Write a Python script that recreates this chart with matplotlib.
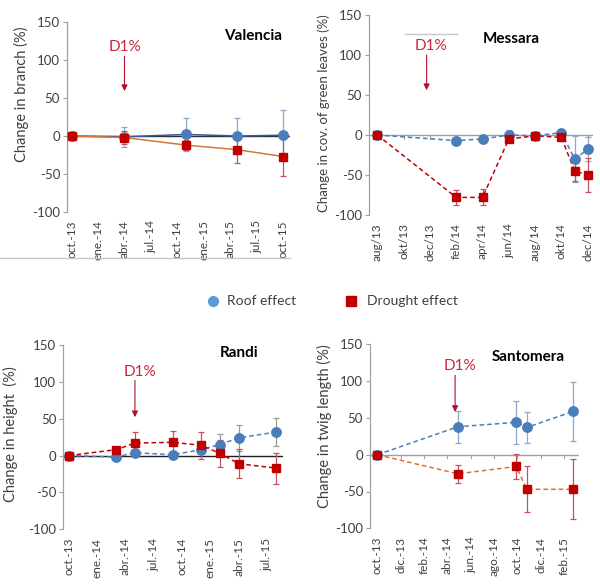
import matplotlib
matplotlib.use("Agg")
import matplotlib.pyplot as plt
from matplotlib.lines import Line2D

plt.rcParams['font.family'] = ['Lato', 'DejaVu Sans']

# ---------------- data ----------------
# x values are months since the first date of each panel
val_x = [0, 6, 13, 18.8, 24]
val_roof_y = [0, -1, 2, 0, 1]
val_roof_err = [0, 13, 22, 24, 33]
val_drought_y = [0, -2, -12, -18, -27]
val_drought_err = [0, 8, 7, 17, 25]
val_ticks = ['oct.-13', 'ene.-14', 'abr.-14', 'jul.-14', 'oct.-14',
             'ene.-15', 'abr.-15', 'jul.-15', 'oct.-15']

mes_x = [0, 6, 8, 10, 12, 14, 15, 16]
mes_roof_y = [0, -7, -5, 0, -1, 3, -30, -18]
mes_roof_err = [0, 2, 2, 6, 2, 3, 29, 15]
mes_drought_y = [0, -78, -78, -5, -1, -3, -45, -50]
mes_drought_err = [0, 9, 10, 2, 3, 2, 12, 21]
mes_ticks = ['aug/13', 'okt/13', 'dec/13', 'feb/14', 'apr/14',
             'jun/14', 'aug/14', 'okt/14', 'dec/14']

ran_x = [0, 5, 7, 11, 14, 16, 18, 22]
ran_roof_y = [0, -2, 4, 1, 8, 15, 24, 32]
ran_roof_err = [0, 2, 3, 2, 5, 14, 18, 19]
ran_drought_y = [0, 8, 17, 18, 14, 3, -11, -17]
ran_drought_err = [0, 4, 15, 15, 18, 18, 20, 21]
ran_ticks = ['oct.-13', 'ene.-14', 'abr.-14', 'jul.-14', 'oct.-14',
             'ene.-15', 'abr.-15', 'jul.-15']

san_x = [0, 6.9, 11.9, 12.8, 16.8]
san_roof_y = [0, 38, 44, 37, 59]
san_roof_err = [0, 22, 29, 21, 40]
san_drought_y = [0, -26, -16, -47, -47]
san_drought_err = [0, 12, 17, 31, 41]
san_ticks = ['oct.-13', 'dic.-13', 'feb.-14', 'abr.-14', 'jun.-14',
             'ago.-14', 'oct.-14', 'dic.-14', 'feb.-15']

BLUE = '#4A7EBB'
BLUE_ERR = '#8FA8C8'
RED = '#C00000'
RED_ERR = '#C8505A'
ORANGE = '#D07A3A'
D1 = '#C8283C'
TXT = '#404040'

fig = plt.figure(figsize=(6.0, 5.85), dpi=100)
W, H = 600.0, 585.0


def make_ax(left, right, top, bottom):
    return fig.add_axes([left / W, 1 - bottom / H, (right - left) / W, (bottom - top) / H])


def style(ax, xlim, tickstep, ticklabels, ylabel, lab_xy, lab_fs, zero_color, zero_ticks):
    ax.set_xlim(*xlim)
    ax.set_ylim(-100, 150)
    ax.set_yticks([-100, -50, 0, 50, 100, 150])
    ax.set_yticklabels(['-100', '-50', '0', '50', '100', '150'])
    ax.set_xticks([i * tickstep for i in range(len(ticklabels))])
    ax.set_xticklabels(ticklabels, rotation=90, va='top', ha='center')
    for s in ['top', 'right', 'bottom']:
        ax.spines[s].set_visible(False)
    ax.spines['left'].set_color('#A0A0A0')
    ax.spines['left'].set_linewidth(0.9)
    ax.tick_params(axis='y', length=3, color='#A0A0A0', labelsize=9.5, labelcolor=TXT, pad=2)
    ax.tick_params(axis='x', length=0, labelsize=8.5, labelcolor=TXT, pad=6)
    ax.set_ylabel(ylabel, fontsize=lab_fs, color=TXT)
    ax.yaxis.set_label_coords(*lab_xy)
    xmax = zero_ticks[1] if zero_ticks else xlim[1]
    ax.plot([xlim[0], xmax], [0, 0], color=zero_color, lw=1.0, zorder=1)
    if zero_ticks:
        for i in range(len(ticklabels)):
            ax.plot([i * tickstep, i * tickstep], [0, -4.5], color=zero_color, lw=0.8, zorder=1)


def series(ax, x, y, err, lcolor, ls, mcolor, ecolor, marker, ms):
    ax.errorbar(x, y, yerr=err, fmt='none', ecolor=ecolor, elinewidth=0.9,
                capsize=2, capthick=0.9, zorder=3)
    ax.plot(x, y, color=lcolor, ls=ls, lw=1.1, zorder=4)
    ax.plot(x, y, ls='none', marker=marker, ms=ms, color=mcolor, mec=mcolor, zorder=5)


def d1(ax, xt, yt, xa, ya0, ya1):
    ax.text(xt, yt, 'D1%', color=D1, fontsize=11, ha='center', va='center')
    ax.annotate('', xy=(xa, ya1), xytext=(xa, ya0),
                arrowprops=dict(arrowstyle='-|>', color='#B01030', lw=0.8,
                                mutation_scale=9, shrinkA=0, shrinkB=0))


# Valencia
ax1 = make_ax(67, 290, 22, 212)
style(ax1, (-0.53, 24.8), 3, val_ticks, 'Change in branch (%)', (-0.170, 0.62), 10.5,
      '#303030', None)
series(ax1, val_x, val_roof_y, val_roof_err, '#2F5C96', '-', BLUE, BLUE_ERR, 'o', 6.8)
series(ax1, val_x, val_drought_y, val_drought_err, ORANGE, '-', RED, RED_ERR, 's', 6.2)
ax1.text(20.6, 131, 'Valencia', fontsize=11, fontweight='bold', ha='center', va='center')
d1(ax1, 6, 117, 6, 105, 59)

# Messara
ax2 = make_ax(369, 593, 15, 215)
style(ax2, (-0.63, 16.4), 2, mes_ticks, 'Change in cov. of green leaves (%)', (-0.174, 0.51), 9.5,
      '#A0A0A0', (None, 16.4))
series(ax2, mes_x, mes_roof_y, mes_roof_err, BLUE, (0, (3, 2)), BLUE, BLUE_ERR, 'o', 6.8)
series(ax2, mes_x, mes_drought_y, mes_drought_err, RED, (0, (3, 2)), RED, RED_ERR, 's', 6.2)
ax2.text(10.2, 120, 'Messara', fontsize=11, fontweight='bold', ha='center', va='center')
d1(ax2, 4.05, 111, 3.75, 100, 56)

# Randi
ax3 = make_ax(63.3, 283, 345, 529.3)
style(ax3, (-0.6, 22.7), 3, ran_ticks, 'Change in height  (%)', (-0.206, 0.517), 10.5,
      '#202020', None)
series(ax3, ran_x, ran_roof_y, ran_roof_err, BLUE, (0, (3, 2)), BLUE, '#9A9A9A', 'o', 6.8)
series(ax3, ran_x, ran_drought_y, ran_drought_err, RED, (0, (3, 2)), RED, RED_ERR, 's', 6.2)
ax3.text(18.0, 139, 'Randi', fontsize=11, fontweight='bold', ha='center', va='center')
d1(ax3, 7.5, 114, 7, 102, 52)

# Santomera
ax4 = make_ax(370, 579.3, 344.3, 528.3)
style(ax4, (-0.63, 17.3), 2, san_ticks, 'Change in twig length (%)', (-0.182, 0.558), 10.5,
      '#A0A0A0', (None, 17.3))
series(ax4, san_x, san_roof_y, san_roof_err, BLUE, (0, (3, 2)), BLUE, BLUE_ERR, 'o', 6.8)
series(ax4, san_x, san_drought_y, san_drought_err, '#E07030', (0, (3, 2)), RED, RED_ERR, 's', 6.2)
ax4.text(12.9, 133, 'Santomera', fontsize=11, fontweight='bold', ha='center', va='center')
d1(ax4, 7.1, 120, 6.66, 108, 58)

# legend
fig.lines.append(Line2D([213.3 / W], [1 - 301 / H], marker='o', ms=7, color='#5B9BD5',
                        mec='#5B9BD5', ls='none', transform=fig.transFigure))
fig.text(226.7 / W, 1 - 301 / H, 'Roof effect', fontsize=10, color=TXT, va='center')
fig.lines.append(Line2D([351 / W], [1 - 301 / H], marker='s', ms=7, color=RED,
                        mec=RED, ls='none', transform=fig.transFigure))
fig.text(367.3 / W, 1 - 301 / H, 'Drought effect', fontsize=10, color=TXT, va='center')

# faint panel border remnants
fig.lines.append(Line2D([0, 290 / W], [1 - 258 / H, 1 - 258 / H], color='#C8C8C8', lw=1,
                        transform=fig.transFigure))
fig.lines.append(Line2D([405 / W, 457 / W], [1 - 34 / H, 1 - 34 / H], color='#C8C8C8', lw=1,
                        transform=fig.transFigure))

fig.savefig('out.png', dpi=100)
